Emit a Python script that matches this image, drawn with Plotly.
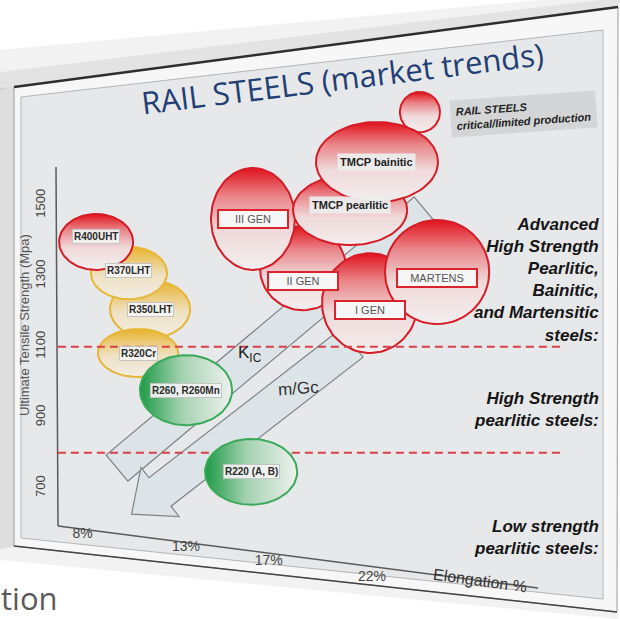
import numpy as np
import plotly.graph_objects as go

W, H = 620, 619
X_RANGE = [4, 34]          # elongation %
Y_RANGE = [330, 2080]      # UTS MPa

# ---------------- data ----------------
steel_names = ["R400UHT", "R370LHT", "R350LHT", "R320Cr", "R260, R260Mn", "R220 (A, B)",
               "III GEN", "II GEN", "TMCP pearlitic", "TMCP bainitic", "I GEN", "MARTENS"]
steel_class = ["critical", "heat-treated", "heat-treated", "heat-treated", "standard", "standard",
               "critical", "critical", "critical", "critical", "critical", "critical"]
elong_center = [8.65, 10.24, 11.26, 10.68, 13.0, 16.15, 16.24, 18.66, 20.94, 22.24, 21.9, 25.15]
uts_center = [1396, 1308, 1206, 1082, 977, 746, 1461, 1322, 1486, 1622, 1223, 1311]
elong_half = [1.79, 1.84, 1.94, 1.94, 2.23, 2.23, 2.03, 2.08, 2.76, 2.95, 2.32, 2.52]
uts_half = [79, 74, 82, 68, 99, 93, 144, 119, 99, 113, 141, 147]

legend_bubble = {"elong": 24.32, "uts": 1763, "elong_half": 0.97, "uts_half": 57}

x_tick_vals = [8, 13, 17, 22]
x_tick_text = ["8%", "13%", "17%", "22%"]
y_tick_vals = [700, 900, 1100, 1300, 1500]
thresholds = [1100, 800]

region_texts = ["Advanced<br>High Strength<br>Pearlitic,<br>Bainitic,<br>and Martensitic<br>steels:",
                "High Strength<br>pearlitic steels:",
                "Low strength<br>pearlitic steels:"]

# ---------------- helpers ----------------
def P(px, py):
    return px / W, 1 - py / H

def path(points):
    s = ""
    for i, (px, py) in enumerate(points):
        x, y = P(px, py)
        s += ("M" if i == 0 else "L") + f"{x:.5f},{y:.5f} "
    return s + "Z"

def block_arrow(tail, end, hw, head_half=None, head_len=0):
    t = np.array(tail, float); e = np.array(end, float)
    d = (e - t) / np.linalg.norm(e - t)
    p = np.array([-d[1], d[0]])
    pts = [t + p * hw, e + p * hw]
    if head_half:
        pts += [e + p * head_half, e + d * head_len, e - p * head_half]
    pts += [e - p * hw, t - p * hw]
    return [tuple(q) for q in pts]

STYLE = {
    "critical": dict(line="#d61c26", fill=dict(type="vertical",
                     colorscale=[[0, "#f3eeee"], [0.4, "#f0d9da"], [0.72, "#e98589"], [1, "#e1121c"]])),
    "heat-treated": dict(line="#e5b733", fill=dict(type="vertical",
                     colorscale=[[0, "#f1ede6"], [0.45, "#efe1c3"], [1, "#e7b32c"]])),
    "standard": dict(line="#3aa95a", fill=dict(type="horizontal",
                     colorscale=[[0, "#1d9a45"], [0.45, "#a3d2b0"], [1, "#eff1ef"]])),
}

theta = np.linspace(0, 2 * np.pi, 90)

def ellipse_trace(ec, uc, eh, uh, cls):
    st = STYLE[cls]
    return go.Scatter(x=ec + eh * np.cos(theta), y=uc + uh * np.sin(theta), mode="lines",
                      fill="toself", fillgradient=st["fill"],
                      line=dict(color=st["line"], width=2), hoverinfo="skip", showlegend=False)

fig = go.Figure()

# legend bubble (critical / limited production)
fig.add_trace(ellipse_trace(legend_bubble["elong"], legend_bubble["uts"],
                            legend_bubble["elong_half"], legend_bubble["uts_half"], "critical"))

order_top = ["II GEN", "III GEN", "TMCP pearlitic", "TMCP bainitic", "I GEN", "MARTENS",
             "R350LHT", "R320Cr", "R370LHT", "R400UHT"]
for n in order_top:
    i = steel_names.index(n)
    fig.add_trace(ellipse_trace(elong_center[i], uts_center[i], elong_half[i], uts_half[i], steel_class[i]))

# threshold dashed lines
for t in thresholds:
    fig.add_trace(go.Scatter(x=[6.8, 31.2], y=[t, t], mode="lines",
                             line=dict(color="#d7404a", width=2, dash="8px,5px"),
                             hoverinfo="skip", showlegend=False))

for n in ["R260, R260Mn", "R220 (A, B)"]:
    i = steel_names.index(n)
    fig.add_trace(ellipse_trace(elong_center[i], uts_center[i], elong_half[i], uts_half[i], steel_class[i]))

# dummy traces for overlay x axes carrying the slanted tick labels
for k in range(2, len(x_tick_vals) + 1):
    fig.add_trace(go.Scatter(x=[X_RANGE[0]], y=[Y_RANGE[0]], xaxis=f"x{k}", yaxis="y", mode="markers",
                             marker=dict(size=1, opacity=0), hoverinfo="skip", showlegend=False))

# ---------------- shapes (slide, arrows, axes) ----------------
shapes = []
shapes.append(dict(type="path", xref="paper", yref="paper", layer="below", line_width=0,
                   fillcolor="rgba(0,0,0,0.05)",
                   path=path([(0, 50), (540, 0), (620, 0), (620, 8), (14, 87), (0, 90)])))
shapes.append(dict(type="path", xref="paper", yref="paper", layer="below", line_width=0,
                   fillcolor="rgba(0,0,0,0.06)",
                   path=path([(0, 72), (600, 0), (620, 0), (618, 8), (14, 87), (0, 88)])))
shapes.append(dict(type="path", xref="paper", yref="paper", layer="below", line_width=0,
                   fillcolor="rgba(0,0,0,0.13)",
                   path=path([(0, 88), (14, 87), (14, 547), (0, 549)])))
shapes.append(dict(type="path", xref="paper", yref="paper", layer="below", line_width=0,
                   fillcolor="rgba(0,0,0,0.05)",
                   path=path([(0, 549), (14, 547), (618, 612), (618, 619), (0, 560)])))
shapes.append(dict(type="path", xref="paper", yref="paper", layer="below",
                   line=dict(color="#9a9a9a", width=1), fillcolor="#f7f7f7",
                   path=path([(14, 87), (618, 7), (617, 612), (14, 546)])))
shapes.append(dict(type="line", xref="paper", yref="paper", layer="below",
                   x0=P(14, 87)[0], y0=P(14, 87)[1], x1=P(618, 7)[0], y1=P(618, 7)[1],
                   line=dict(color="#2e2e2e", width=2.5)))
shapes.append(dict(type="line", xref="paper", yref="paper", layer="below",
                   x0=P(14, 546)[0], y0=P(14, 546)[1], x1=P(617, 612)[0], y1=P(617, 612)[1],
                   line=dict(color="#444", width=1.5)))
shapes.append(dict(type="path", xref="paper", yref="paper", layer="below",
                   line=dict(color="#b5b5b5", width=1), fillcolor="#e7e8ea",
                   path=path([(21, 97), (603, 30), (603, 599), (21, 538)])))
arrow_style = dict(type="path", xref="paper", yref="paper", layer="below",
                   line=dict(color="#7d8488", width=1.2), fillcolor="#dde4e7")
shapes.append(dict(arrow_style, path=path(block_arrow((425, 210), (117, 468), 17))))
shapes.append(dict(arrow_style, path=path(block_arrow((352, 343), (160, 492), 18, 31, 36))))
shapes.append(dict(type="line", xref="paper", yref="paper", layer="below",
                   x0=P(56, 167)[0], y0=P(56, 167)[1], x1=P(58, 526)[0], y1=P(58, 526)[1],
                   line=dict(color="#5a5a5a", width=1.5)))
shapes.append(dict(type="line", xref="paper", yref="paper", layer="below",
                   x0=P(58, 526)[0], y0=P(58, 526)[1], x1=P(538, 588)[0], y1=P(538, 588)[1],
                   line=dict(color="#5a5a5a", width=1.5)))

# ---------------- annotations ----------------
ann = []
NARROW = "Liberation Sans Narrow, Arial Narrow, Liberation Sans, sans-serif"
label_shift = {"II GEN": -13, "I GEN": -7, "MARTENS": -6, "TMCP pearlitic": 5, "R400UHT": 5,
               "R370LHT": 3, "R320Cr": 0}
for i, n in enumerate(steel_names):
    base = dict(x=elong_center[i], y=uts_center[i], xref="x", yref="y", showarrow=False,
                yshift=label_shift.get(n, 0))
    if "GEN" in n or n == "MARTENS":
        ann.append(dict(base, text=n, width=64 if n != "MARTENS" else 74,
                        font=dict(family="Liberation Sans, Arial, sans-serif", size=11, color="#555"),
                        bgcolor="#f6f6f6", bordercolor="#d9232d", borderwidth=2, borderpad=2))
    elif n.startswith("TMCP"):
        ann.append(dict(base, text=f"<b>{n}</b>",
                        font=dict(family="Liberation Sans, Arial, sans-serif", size=11, color="#222"),
                        bgcolor="rgba(236,236,236,0.95)", borderpad=2))
    else:
        ann.append(dict(base, text=f"<b>{n}</b>",
                        font=dict(family=NARROW, size=10, color="#2a2a2a"),
                        bgcolor="rgba(244,244,244,0.9)", bordercolor="#c4c4c4",
                        borderwidth=1, borderpad=1))

def pann(px, py, text, **kw):
    x, y = P(px, py)
    d = dict(x=x, y=y, xref="paper", yref="paper", text=text, showarrow=False,
             xanchor="center", yanchor="middle")
    d.update(kw)
    return d

ann.append(pann(342, 78, "RAIL STEELS (market trends)", textangle=-7,
                font=dict(family="Open Sans, sans-serif", size=31, color="#1f3f75")))
ann.append(pann(523, 114, "<b><i>RAIL STEELS<br>critical/limited production</i></b>", textangle=-4,
                align="left", bgcolor="#d4d5d7", borderpad=5,
                font=dict(family="Liberation Sans, Arial, sans-serif", size=11, color="#222")))
BI = dict(family="Liberation Sans, Arial, sans-serif", size=17, color="#151515")
ann.append(pann(601, 280, f"<b><i>{region_texts[0]}</i></b>", xanchor="right", align="right", font=BI))
ann.append(pann(601, 409, f"<b><i>{region_texts[1]}</i></b>", xanchor="right", align="right", font=BI))
ann.append(pann(601, 537, f"<b><i>{region_texts[2]}</i></b>", xanchor="right", align="right", font=BI))
ann.append(pann(250, 354, "K<sub>IC</sub>", font=dict(family="Liberation Sans, Arial", size=17, color="#222")))
ann.append(pann(298, 388, "m/Gc", textangle=-4,
                font=dict(family="Liberation Sans, Arial", size=17, color="#333")))
ann.append(pann(480, 580, "Elongation %", textangle=8,
                font=dict(family="Liberation Sans, Arial", size=16, color="#333")))
ann.append(pann(24, 325, "Ultimate Tensile Strength (Mpa)", textangle=-90,
                font=dict(family="Liberation Sans, Arial", size=13, color="#555")))
ann.append(pann(-1, 598, "tion", xanchor="left",
                font=dict(family="Open Sans, sans-serif", size=31, color="#5a5a5a")))

# ---------------- axes ----------------
tick_font = dict(family="Liberation Sans, Arial, sans-serif", size=14, color="#444")
label_y = [523, 536, 550, 566]
layout_axes = {}
for k, (v, t) in enumerate(zip(x_tick_vals, x_tick_text)):
    key = "xaxis" if k == 0 else f"xaxis{k + 1}"
    ax = dict(range=X_RANGE, domain=[0, 1], anchor="free", position=1 - label_y[k] / H,
              tickvals=[v], ticktext=[t], tickangle=0, showgrid=False, zeroline=False,
              showline=False, ticks="", tickfont=tick_font, fixedrange=True, automargin=False)
    if k > 0:
        ax["overlaying"] = "x"
    layout_axes[key] = ax

fig.update_layout(
    template="none",
    width=W, height=H, autosize=False,
    margin=dict(l=0, r=0, t=0, b=0, pad=0),
    paper_bgcolor="white", plot_bgcolor="white",
    yaxis=dict(range=Y_RANGE, domain=[0, 1], anchor="free", position=57 / W,
               tickvals=y_tick_vals, tickangle=-90, showgrid=False, zeroline=False,
               showline=False, ticks="outside", ticklen=7, tickcolor="rgba(0,0,0,0)",
               tickfont=dict(family="Liberation Sans, Arial, sans-serif", size=13, color="#444"),
               fixedrange=True, automargin=False),
    shapes=shapes, annotations=ann, showlegend=False,
    **layout_axes,
)

fig.write_html("out.html", config={"displayModeBar": False},
               post_script="document.body.style.margin='0';document.body.style.padding='0';"
                           "document.body.style.overflow='hidden';")
